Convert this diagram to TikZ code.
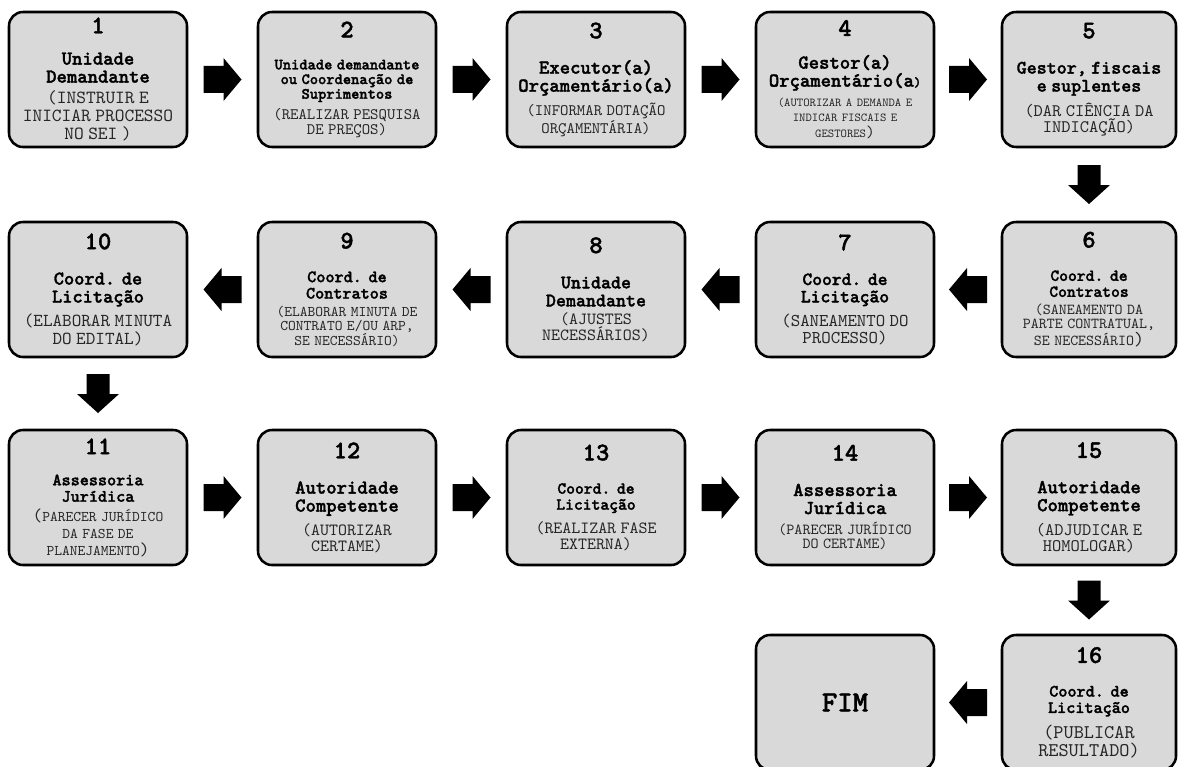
\documentclass[tikz,border=0pt]{standalone}
\usepackage{fontspec}
\setmonofont{lmmono10-regular.otf}[BoldFont=lmmonolt10-bold.otf, BoldFeatures={FakeBold=1.6}]
\usetikzlibrary{calc}
\definecolor{boxfill}{HTML}{D9D9D9}
\definecolor{bodygray}{HTML}{262626}
\lineskiplimit=-50pt
\newcommand{\stepnum}[2][8pt]{\vspace*{#1}{\fontsize{19pt}{19pt}\selectfont\bfseries #2\par}\vspace{5pt}}
\newcommand{\stephead}[3]{{\fontsize{#1}{#2}\selectfont\bfseries #3\par}\vspace{1.5pt}}
\newcommand{\stepbody}[3]{{\fontsize{#1}{#2}\selectfont\textcolor{bodygray}{#3}\par}}
\newcommand{\fs}[2]{{\fontsize{#1}{#1}\selectfont #2}}
\tikzset{
  stepbox/.style={draw=black, line width=1.9pt, rounded corners=10.5pt, fill=boxfill, font=\ttfamily,
    minimum width=133.5pt, minimum height=101.25pt, text width=130pt, align=center, inner sep=0pt},
  lastcol/.style={minimum width=130.5pt},
  rarr/.pic={\fill[black] (-19,-13.5) -- (1,-13.5) -- (1,-21.5) -- (19,0) -- (1,21.5) -- (1,13.5) -- (-19,13.5) -- cycle;},
  larr/.pic={\fill[black] (19,-13.5) -- (-1,-13.5) -- (-1,-21.5) -- (-19,0) -- (-1,21.5) -- (-1,13.5) -- (19,13.5) -- cycle;},
  darr/.pic={\fill[black] (-11.5,-19.5) -- (11.5,-19.5) -- (11.5,0.5) -- (21,0.5) -- (0,19.5) -- (-21,0.5) -- (-11.5,0.5) -- cycle;}
}
\begin{document}
\begin{tikzpicture}[x=0.75pt,y=-0.75pt]
\useasboundingbox (0,0) rectangle (1178,767);
\clip (0,0) rectangle (1178,767);
% row 1
\node[stepbox] (s1) at (98,79.5) {\stepnum[5pt]{1}\stephead{14.8pt}{13.5pt}{Unidade\\Demandante}\vspace{1pt}\stepbody{13.9pt}{13.5pt}{(INSTRUIR E\\INICIAR PROCESSO\\NO SEI )}};
\node[stepbox] (s2) at (347,79.5) {\stepnum{2}\stephead{11.8pt}{11pt}{Unidade demandante\\ou Coordenação de\\Suprimentos}\vspace{3pt}\stepbody{12pt}{11pt}{(REALIZAR PESQUISA\\DE PREÇOS)}};
\node[stepbox] (s3) at (596,79.5) {\stepnum{3}\stephead{14.8pt}{13.5pt}{Executor(a)\\Orçamentário(a)}\vspace{3pt}\stepbody{12pt}{11pt}{(INFORMAR DOTAÇÃO\\ORÇAMENTÁRIA)}};
\node[stepbox] (s4) at (845,79.5) {\stepnum[6pt]{4}\stephead{14.8pt}{13.5pt}{Gestor(a)\\Orçamentário(a\fs{10.3pt}{)}}\vspace{3pt}\stepbody{9.1pt}{8.5pt}{(AUTORIZAR A DEMANDA E\\[2.5pt]INDICAR FISCAIS E\\[2.5pt]GESTORES\fs{12.5pt}{)}}};
\node[stepbox,lastcol] (s5) at (1089,79.5) {\stepnum{5}\stephead{14.3pt}{13.5pt}{Gestor, fiscais\\e suplentes}\vspace{3pt}\stepbody{13.2pt}{12pt}{(DAR CIÊNCIA DA\\INDICAÇÃO)}};
% row 2
\node[stepbox,lastcol] (s6) at (1089,289.5) {\stepnum{6}\stephead{12.6pt}{12pt}{Coord. de\\Contratos}\vspace{1pt}\stepbody{11.4pt}{10.8pt}{(SANEAMENTO DA\\PARTE CONTRATUAL,\\SE NECESSÁRIO\fs{14.3pt}{)}}};
\node[stepbox] (s7) at (845,289.5) {\stepnum{7}\stephead{14pt}{13pt}{Coord. de\\Licitação}\vspace{4pt}\stepbody{13.5pt}{12.5pt}{(SANEAMENTO DO\\PROCESSO)}};
\node[stepbox] (s8) at (596,289.5) {\stepnum{8}\stephead{14.3pt}{13.5pt}{Unidade\\Demandante}\stepbody{12.8pt}{12pt}{(AJUSTES\\NECESSÁRIOS)}};
\node[stepbox] (s9) at (347,289.5) {\stepnum{9}\stephead{13pt}{12.3pt}{Coord. de\\Contratos}\vspace{1pt}\stepbody{11.1pt}{10.8pt}{(ELABORAR MINUTA DE\\CONTRATO E/OU ARP,\\SE NECESSÁRIO)}};
\node[stepbox] (s10) at (98,289.5) {\stepnum{10}\stephead{14.6pt}{13.5pt}{Coord. de\\Licitação}\vspace{4pt}\stepbody{13.7pt}{12.8pt}{(ELABORAR MINUTA\\DO EDITAL)}};
% row 3
\node[stepbox] (s11) at (98,497.5) {\stepnum[6pt]{11}\stephead{13pt}{12.3pt}{Assessoria\\Jurídica}\vspace{3pt}\stepbody{11.1pt}{10.5pt}{\fs{13.7pt}{(}PARECER JURÍDICO\\[2pt]DA FASE DE\\[2pt]PLANEJAMENTO\fs{13.7pt}{)}}};
\node[stepbox] (s12) at (347,497.5) {\stepnum{12}\stephead{14.8pt}{13.5pt}{Autoridade\\Competente}\vspace{3pt}\stepbody{12.8pt}{12pt}{(AUTORIZAR\\CERTAME)}};
\node[stepbox] (s13) at (596,497.5) {\stepnum{13}\stephead{12.6pt}{12pt}{Coord. de\\Licitação}\vspace{4pt}\stepbody{12.8pt}{12pt}{(REALIZAR FASE\\EXTERNA)}};
\node[stepbox] (s14) at (845,497.5) {\stepnum{14}\stephead{14.8pt}{13.5pt}{Assessoria\\Jurídica}\vspace{3pt}\stepbody{11.5pt}{10.8pt}{(PARECER JURÍDICO\\DO CERTAME)}};
\node[stepbox,lastcol] (s15) at (1089,497.5) {\stepnum{15}\stephead{14.8pt}{13.5pt}{Autoridade\\Competente}\vspace{3pt}\stepbody{13.2pt}{12.3pt}{(ADJUDICAR E\\HOMOLOGAR)}};
% row 4
\node[stepbox,lastcol] (s16) at (1089,702.5) {\stepnum{16}\stephead{13pt}{12.3pt}{Coord. de\\Licitação}\vspace{4pt}\stepbody{14.5pt}{13.5pt}{(PUBLICAR\\RESULTADO)}};
\node[stepbox] (fim) at (845,702.5) {{\fontsize{22pt}{22pt}\selectfont\bfseries FIM\par}};
% arrows
\pic at ($(s1.east)!0.5!(s2.west)$) {rarr};
\pic at ($(s2.east)!0.5!(s3.west)$) {rarr};
\pic at ($(s3.east)!0.5!(s4.west)$) {rarr};
\pic at ($(s4.east)!0.5!(s5.west)$) {rarr};
\pic at ($(s5.south)!0.5!(s6.north)$) {darr};
\pic at ($(s6.west)!0.5!(s7.east)$) {larr};
\pic at ($(s7.west)!0.5!(s8.east)$) {larr};
\pic at ($(s8.west)!0.5!(s9.east)$) {larr};
\pic at ($(s9.west)!0.5!(s10.east)$) {larr};
\pic at ($(s10.south)!0.5!(s11.north)$) {darr};
\pic at ($(s11.east)!0.5!(s12.west)$) {rarr};
\pic at ($(s12.east)!0.5!(s13.west)$) {rarr};
\pic at ($(s13.east)!0.5!(s14.west)$) {rarr};
\pic at ($(s14.east)!0.5!(s15.west)$) {rarr};
\pic at ($(s15.south)!0.5!(s16.north)$) {darr};
\pic at ($(s16.west)!0.5!(fim.east)$) {larr};
\end{tikzpicture}
\end{document}
